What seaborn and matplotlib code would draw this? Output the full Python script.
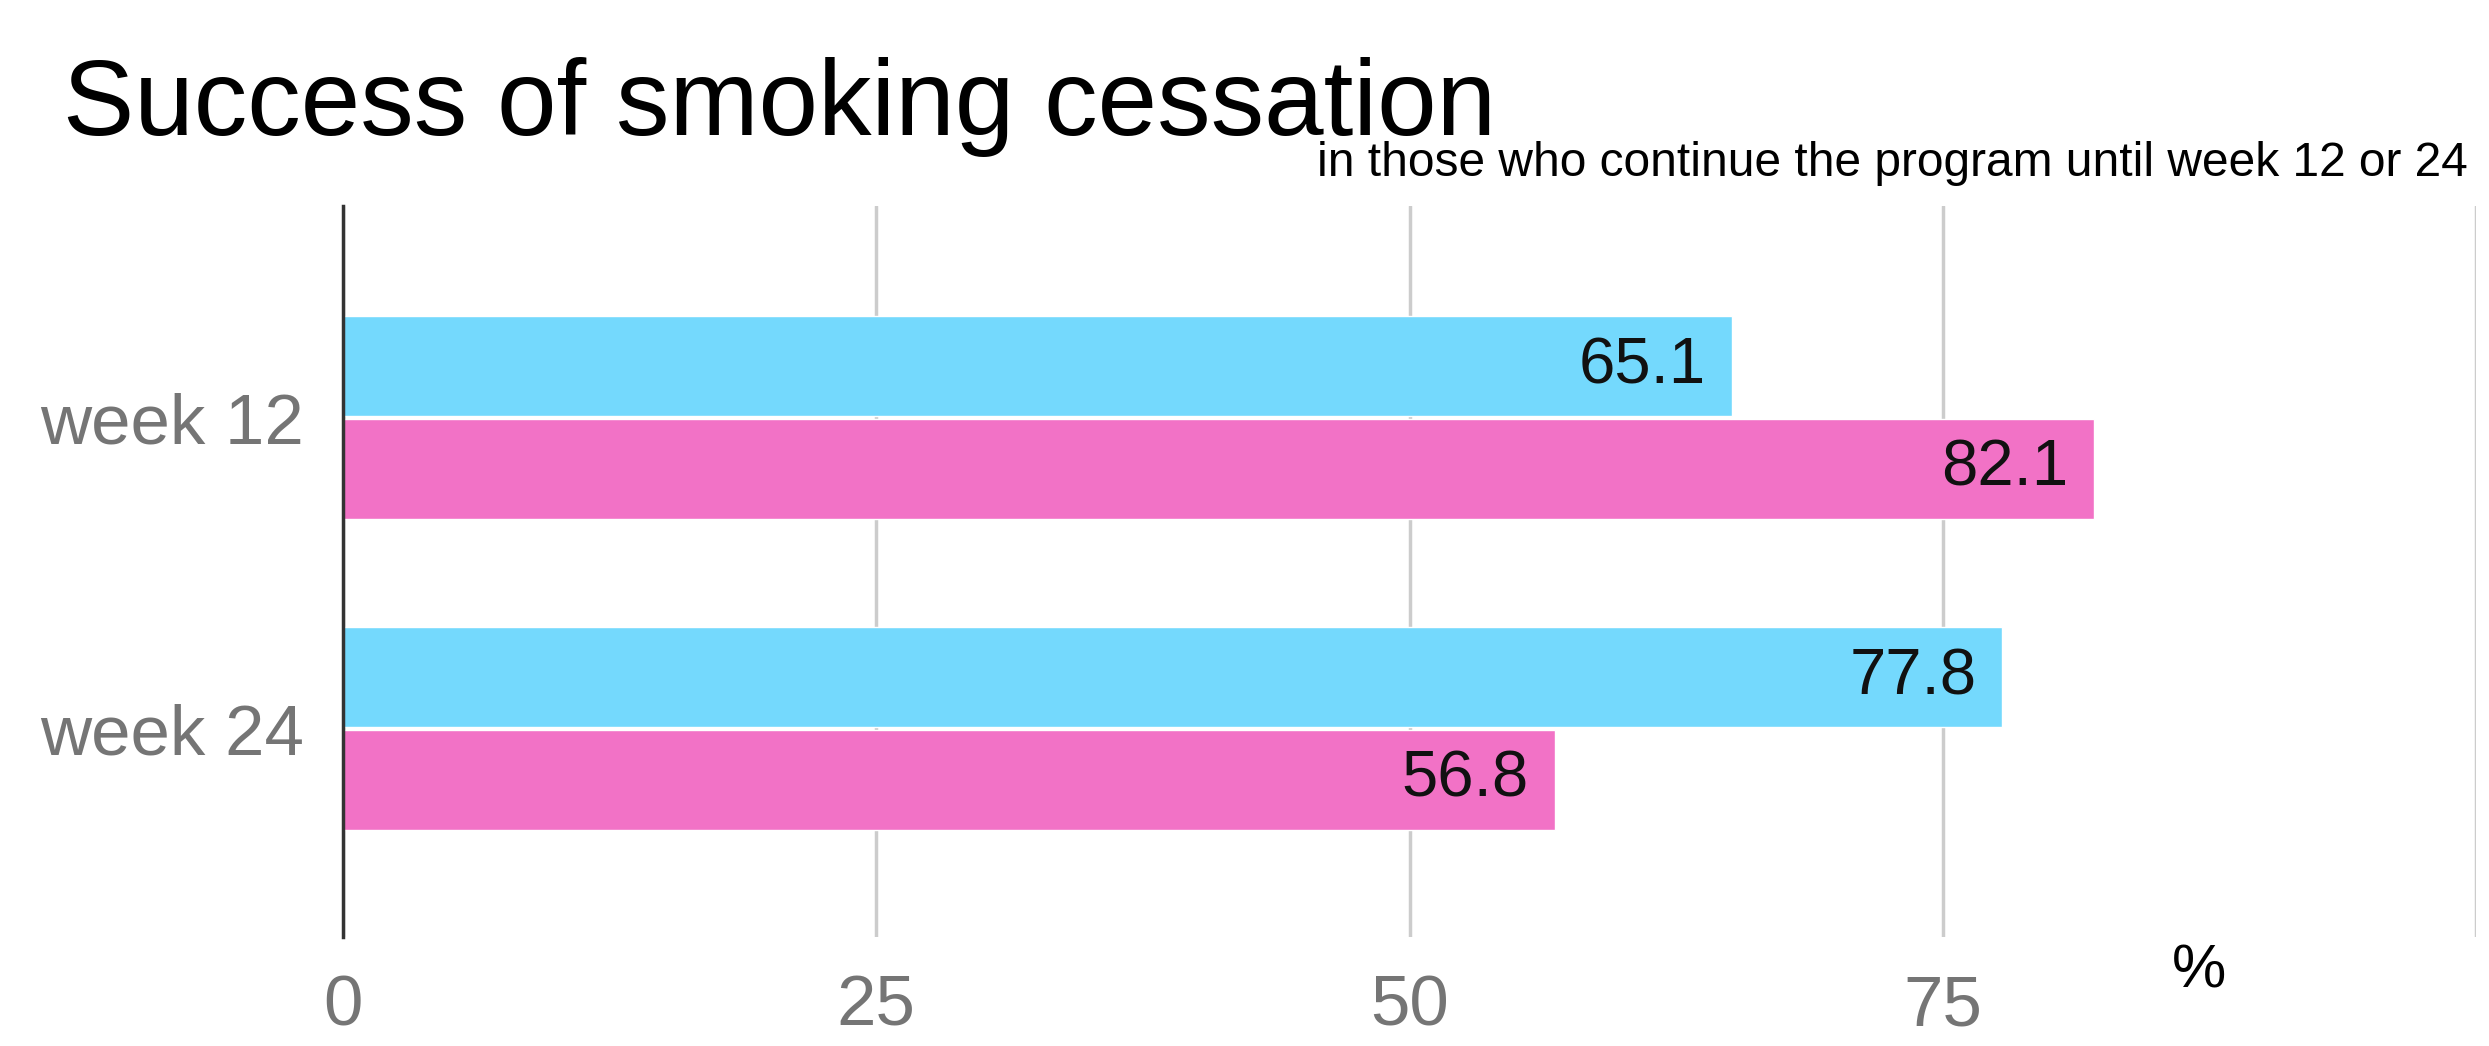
import pandas as pd
import seaborn as sns
import matplotlib.pyplot as plt

# --- data ---
weeks = ["week 12", "week 24"]
series_names = ["group 1", "group 2"]
group1_values = [65.1, 77.8]
group2_values = [82.1, 56.8]
x_ticks = [0, 25, 50, 75, 100]
x_tick_labels = ["0", "25", "50", "75", ""]

bar_colors = ["#74D9FD", "#F272C6"]


def run_chart():
    df = pd.DataFrame({
        "week": weeks * 2,
        "group": [series_names[0]] * len(weeks) + [series_names[1]] * len(weeks),
        "value": group1_values + group2_values,
    })

    sns.set_style("white")
    plt.rcParams["font.family"] = ["Liberation Sans", "DejaVu Sans"]

    fig = plt.figure(figsize=(24.89, 10.46), dpi=100)
    ax = fig.add_axes([343 / 2489, 1 - 937 / 1046, (2476 - 343) / 2489, (937 - 206) / 1046])

    sns.barplot(data=df, y="week", x="value", hue="group", order=weeks,
                hue_order=series_names, palette=bar_colors, orient="h",
                width=0.66, gap=0.03, saturation=1, legend=False, ax=ax)

    # labels inside the right end of each bar
    for bar in ax.patches:
        w = bar.get_width()
        if w <= 0:
            continue
        ax.text(w - 1.2, bar.get_y() + bar.get_height() / 2, f"{w:.1f}",
                ha="right", va="center", fontsize=47, color="#111111")

    ax.set_xlim(0, 100)
    ax.set_ylim(1.67, -0.68)
    ax.set_xticks(x_ticks)
    ax.set_xticklabels(x_tick_labels)
    ax.xaxis.grid(True, color="#cccccc", linewidth=2.5)
    ax.set_axisbelow(True)
    ax.tick_params(axis="x", length=0, pad=27, labelsize=51, labelcolor="#757575")
    ax.tick_params(axis="y", length=0, pad=28, labelsize=51, labelcolor="#757575")
    ax.set_xlabel("")
    ax.set_ylabel("")

    for side in ["top", "right", "bottom"]:
        ax.spines[side].set_visible(False)
    ax.spines["left"].set_color("#333333")
    ax.spines["left"].set_linewidth(2.5)
    ax.spines["left"].set_zorder(5)

    fig.text(63 / 2489, 1 - 135 / 1046, "Success of smoking cessation",
             fontsize=77, color="#000000", va="baseline", ha="left")
    fig.text(2468 / 2489, 1 - 176 / 1046,
             "in those who continue the program until week 12 or 24",
             fontsize=34.5, color="#000000", va="baseline", ha="right")
    fig.text(2199 / 2489, 1 - 972 / 1046, "%", fontsize=44, color="#000000",
             ha="center", va="center")

    fig.savefig("out.png", dpi=100)


if __name__ == "__main__":
    run_chart()
